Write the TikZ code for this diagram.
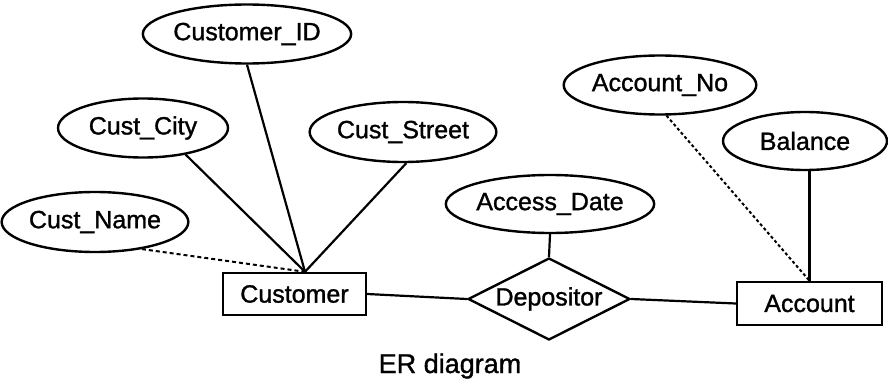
\documentclass[tikz,border=0pt]{standalone}
\usepackage{fontspec}
\setmainfont{Liberation Sans}
\newfontfamily\erfont{Liberation Sans}[FakeBold=1.2]
\usetikzlibrary{shapes.geometric,calc}
\begin{document}
\begin{tikzpicture}[x=1pt,y=-1pt,
  attr/.style={ellipse,draw,line width=2.4pt,inner sep=0pt,font=\erfont\fontsize{25}{25}\selectfont},
  entity/.style={rectangle,draw,line width=2.4pt,inner sep=0pt,font=\erfont\fontsize{25}{25}\selectfont},
  rel/.style={diamond,aspect=2,draw,line width=2.4pt,inner sep=0pt,minimum width=162pt,minimum height=82pt,font=\erfont\fontsize{25}{25}\selectfont},
  link/.style={line width=2.2pt},
  dlink/.style={line width=2pt,dash pattern=on 4pt off 3pt}]
\useasboundingbox (0,0) rectangle (888,385);
\node[attr,minimum width=170pt,minimum height=59pt] (cid) at (247,34) {Customer\_ID};
\node[attr,minimum width=170pt,minimum height=59pt] (ccity) at (143,128) {Cust\_City};
\node[attr,minimum width=163pt,minimum height=60pt] (cst) at (403,132) {Cust\_Street};
\node[attr,minimum width=171pt,minimum height=60pt] (cname) at (95,222) {Cust\_Name};
\node[entity,minimum width=143pt,minimum height=42pt] (cust) at (294.5,294) {Customer};
\node[rel] (dep) at (549,299) {Depositor};
\node[attr,minimum width=166pt,minimum height=58pt] (ad) at (550,204) {Access\_Date};
\node[attr,minimum width=170pt,minimum height=59pt] (acn) at (660,85) {Account\_No};
\node[attr,minimum width=164pt,minimum height=58pt] (bal) at (805,141) {Balance};
\node[entity,minimum width=145pt,minimum height=43pt] (acc) at (809.5,303.5) {Account};
\node[font=\erfont\fontsize{27}{27}\selectfont,inner sep=0pt,anchor=base] (cap) at (450,373) {ER diagram};
\coordinate (cj) at ($(cust.north)+(10.5,0)$);
\draw[link] (cid.south) -- (cj);
\draw[link] (ccity.-32) -- (cj);
\draw[link] (cst.-84) -- (cj);
\draw[dlink] (cname.-30) -- (cj);
\draw[link] (ad.south) -- (dep.north);
\draw[link] (cust.east) -- (dep.west);
\draw[link] (dep.east) -- (acc.west);
\draw[dlink,dash pattern=on 3pt off 2.5pt] (acn.-78) -- (acc.north);
\draw[link] (acc.north) -- (acc.north |- bal.south);
\end{tikzpicture}
\end{document}
